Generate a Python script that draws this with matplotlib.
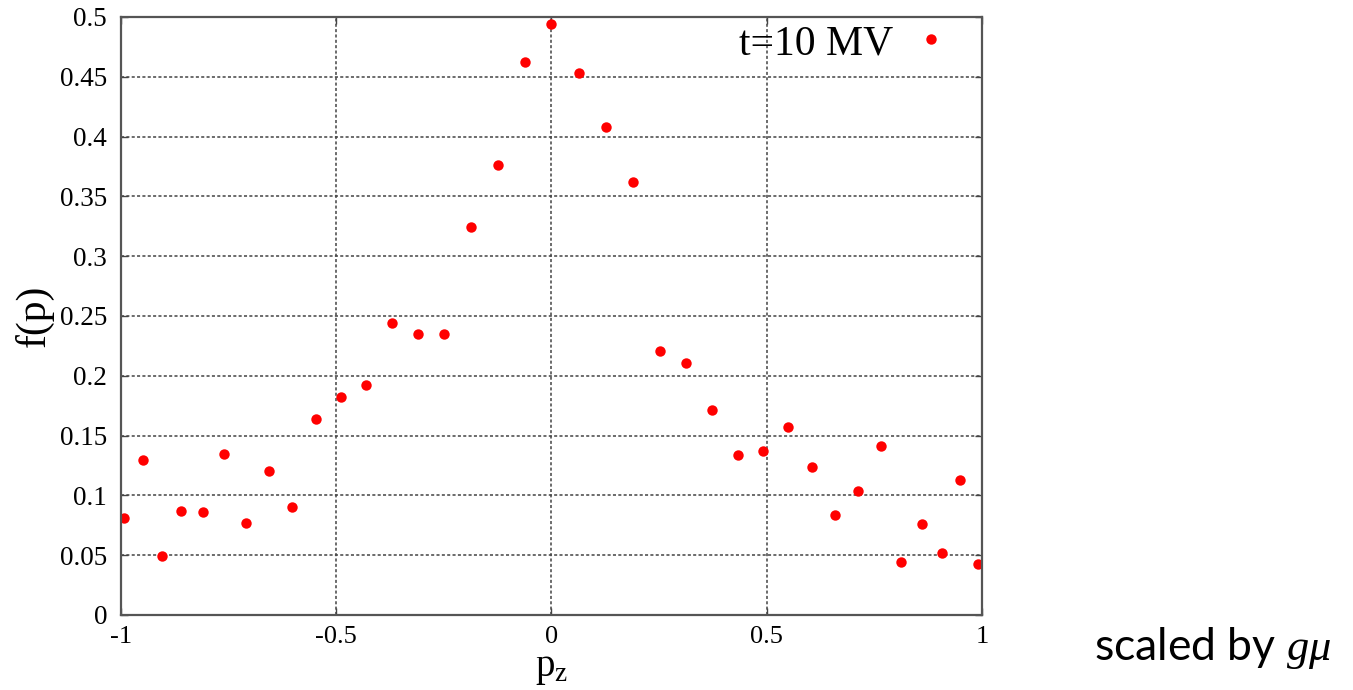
import matplotlib
matplotlib.use("Agg")
import matplotlib.pyplot as plt

plt.rcParams["mathtext.fontset"] = "custom"
plt.rcParams["mathtext.rm"] = "Liberation Serif"
plt.rcParams["mathtext.it"] = "Liberation Serif:italic"

SERIF = "Liberation Serif"

# momentum p_z (scaled) and distribution f(p)
pz = [-0.993, -0.948, -0.905, -0.860, -0.810, -0.761, -0.710, -0.657, -0.603,
      -0.546, -0.490, -0.430, -0.370, -0.309, -0.249, -0.187, -0.124, -0.062,
      0.000, 0.063, 0.127, 0.189, 0.251, 0.312, 0.373, 0.433, 0.491, 0.549,
      0.604, 0.659, 0.712, 0.765, 0.813, 0.861, 0.907, 0.950, 0.991]
fp = [0.081, 0.130, 0.049, 0.087, 0.086, 0.135, 0.077, 0.120, 0.090,
      0.164, 0.182, 0.192, 0.244, 0.235, 0.235, 0.324, 0.376, 0.462,
      0.494, 0.453, 0.408, 0.362, 0.221, 0.211, 0.171, 0.134, 0.137, 0.157,
      0.124, 0.084, 0.104, 0.141, 0.044, 0.076, 0.052, 0.113, 0.043]

xticks = [-1, -0.5, 0, 0.5, 1]
xtick_labels = ["-1", "-0.5", "0", "0.5", "1"]
yticks = [0, 0.05, 0.1, 0.15, 0.2, 0.25, 0.3, 0.35, 0.4, 0.45, 0.5]
ytick_labels = ["0", "0.05", "0.1", "0.15", "0.2", "0.25", "0.3", "0.35",
                "0.4", "0.45", "0.5"]

fig = plt.figure(figsize=(13.53, 6.90), dpi=100, facecolor="white")
ax = fig.add_axes([0.0894, 0.1087, 0.6364, 0.8667])

ax.plot(pz, fp, "o", color="red", ms=7.5, mec="none", label="t=10 MV")

ax.set_xlim(-1, 1)
ax.set_ylim(0, 0.5)
ax.set_xticks(xticks)
ax.set_xticklabels(xtick_labels, fontfamily=SERIF, fontsize=19)
ax.set_yticks(yticks)
ax.set_yticklabels(ytick_labels, fontfamily=SERIF, fontsize=19.5)
ax.tick_params(direction="in", length=5, width=1, top=True, right=True,
               color="#444444")
ax.tick_params(axis="y", pad=10)
ax.tick_params(axis="x", pad=8)

ax.grid(True, linestyle=(0, (2, 1.5)), color="#444444", linewidth=1.1)
for sp in ax.spines.values():
    sp.set_color("#555555")
    sp.set_linewidth(1.6)

ax.set_xlabel(r"$\mathrm{p_z}$", fontsize=28, labelpad=1)
ax.set_ylabel("f(p)", fontfamily=SERIF, fontsize=30, labelpad=4)

ax.legend(loc="upper right", bbox_to_anchor=(0.999, 1.05), frameon=False,
          markerfirst=False, numpoints=1, handlelength=0.6, handletextpad=0.6,
          prop={"family": SERIF, "size": 30})

fig.text(0.896, 0.043, r"scaled by $g\mu$", fontfamily="Lato", fontsize=32,
         ha="center", va="baseline")

fig.savefig("out.png", dpi=100, facecolor="white")
